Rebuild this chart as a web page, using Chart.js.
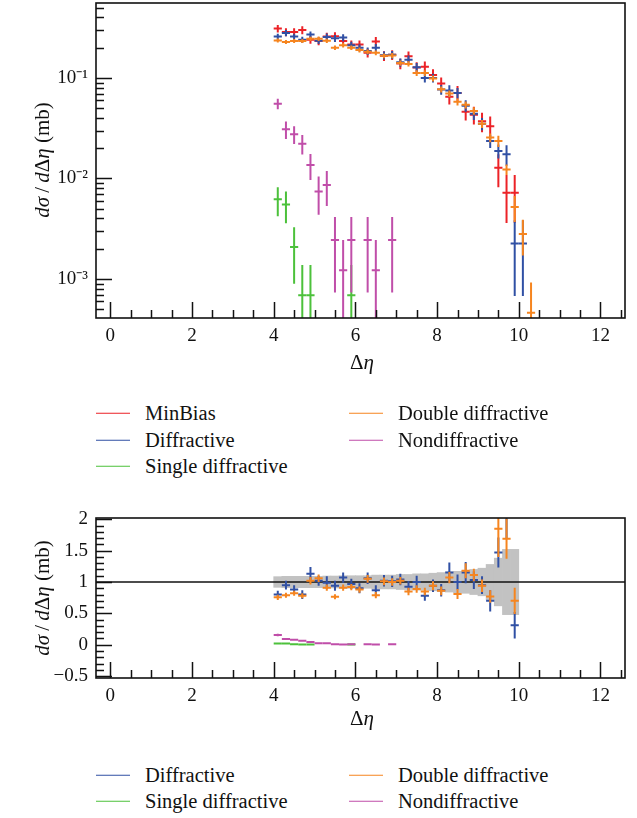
<!DOCTYPE html>
<html><head><meta charset="utf-8">
<script src="https://cdn.jsdelivr.net/npm/chart.js@4.4.0/dist/chart.umd.min.js"></script>
<style>
body{margin:0;background:#fff;}
#wrap{position:relative;width:637px;height:818px;overflow:hidden;font-family:'Liberation Serif',serif;color:#111;}
canvas{position:absolute;left:0;}
.t{position:absolute;white-space:nowrap;font-size:21px;line-height:1;}
.yt{transform:translate(-50%,-50%) rotate(-90deg);}
.xt{transform:translate(-50%,-50%);font-size:21px;}
.lg{position:absolute;display:flex;align-items:center;font-size:20.5px;white-space:nowrap;transform:translateY(-50%);line-height:1;}
.lg .l{display:inline-block;width:34px;height:0;border-top:1.6px solid;margin-right:15px;}
</style></head>
<body><div id="wrap">
<canvas id="c1" width="637" height="380" style="top:0"></canvas>
<canvas id="c2" width="637" height="210" style="top:505px"></canvas>
<div class="t yt" style="left:42px;top:160px"><i>dσ</i>&thinsp;/&thinsp;<i>d</i>Δ<i>η</i> (mb)</div>
<div class="t xt" style="left:362px;top:362px">Δ<i>η</i></div>
<div class="t yt" style="left:42px;top:598px"><i>dσ</i>&thinsp;/&thinsp;<i>d</i>Δ<i>η</i> (mb)</div>
<div class="t xt" style="left:362px;top:718px">Δ<i>η</i></div>
<div id="leg"></div>
</div>
<script>
// ---------- data ----------
const seriesNames  = ['MinBias','Diffractive','Single diffractive','Double diffractive','Nondiffractive'];
const seriesColors = ['#ec2227','#3050a4','#4cc13b','#f6851f','#c04ea9'];

const xMinBias = [4.1,4.3,4.5,4.7,4.9,5.1,5.3,5.5,5.7,5.9,6.1,6.3,6.5,6.7,6.9,7.1,7.3,7.5,7.7,7.9,8.1,8.3,8.5,8.7,8.9,9.1,9.3,9.5,9.7,9.9];
const xDiffractive = [4.1,4.3,4.5,4.7,4.9,5.1,5.3,5.5,5.7,5.9,6.1,6.3,6.5,6.7,6.9,7.1,7.3,7.5,7.7,7.9,8.1,8.3,8.5,8.7,8.9,9.1,9.3,9.5,9.7,9.9,10.1];
const xDouble = [4.1,4.3,4.5,4.7,4.9,5.1,5.3,5.5,5.7,5.9,6.1,6.3,6.5,6.7,6.9,7.1,7.3,7.5,7.7,7.9,8.1,8.3,8.5,8.7,8.9,9.1,9.3,9.5,9.7,9.9,10.1,10.3];
const xNon = [4.1,4.3,4.5,4.7,4.9,5.1,5.3,5.5,5.7,5.9,6.3,6.5,6.9];
const xSingle = [4.1,4.3,4.5,4.7,4.9,5.9];

// top panel: dσ/dΔη (mb)
const minBias = [0.31,0.286,0.286,0.30,0.24,0.233,0.258,0.26,0.233,0.215,0.215,0.178,0.23,0.166,0.17,0.139,0.164,0.127,0.129,0.107,0.088,0.065,0.071,0.046,0.043,0.037,0.033,0.0128,0.0072,0.0072];
const minBiasRelErr = [0.085,0.09,0.09,0.09,0.09,0.09,0.095,0.095,0.1,0.1,0.1,0.1,0.11,0.11,0.11,0.12,0.12,0.13,0.13,0.14,0.15,0.16,0.17,0.18,0.2,0.22,0.25,0.36,0.5,0.5];
const diffractive = [0.258,0.28,0.258,0.24,0.27,0.235,0.256,0.248,0.252,0.212,0.2,0.185,0.2,0.168,0.17,0.143,0.152,0.128,0.10,0.10,0.0766,0.075,0.071,0.053,0.044,0.035,0.0236,0.0188,0.0174,0.00226,0.00226];
const diffractiveRelErr = [0.07,0.07,0.07,0.07,0.075,0.075,0.08,0.08,0.08,0.08,0.085,0.085,0.09,0.09,0.09,0.095,0.1,0.1,0.1,0.1,0.11,0.13,0.12,0.13,0.13,0.14,0.15,0.16,0.23,0.7,0.7];
const doubleDiff = [0.236,0.228,0.233,0.233,0.245,0.246,0.234,0.2,0.212,0.2,0.19,0.182,0.178,0.166,0.167,0.141,0.138,0.112,0.112,0.099,0.077,0.07,0.058,0.054,0.047,0.035,0.0255,0.0236,0.0123,0.0052,0.0028,0.00046];
const doubleRelErr = [0.045,0.045,0.045,0.045,0.05,0.05,0.05,0.05,0.05,0.05,0.055,0.055,0.055,0.055,0.06,0.06,0.06,0.065,0.065,0.07,0.07,0.075,0.08,0.08,0.085,0.09,0.1,0.13,0.12,0.29,0.39,1.0];
const nonDiff = [0.0555,0.0308,0.0275,0.0222,0.0136,0.0074,0.0086,0.00244,0.00122,0.00244,0.00244,0.00122,0.00244];
const nonRelErr = [0.12,0.2,0.2,0.22,0.29,0.41,0.38,0.7,1.0,0.7,0.7,1.0,0.7];
const singleDiff = [0.0062,0.0055,0.00208,0.00069,0.00069,0.00069];
const singleRelErr = [0.32,0.35,0.57,1.0,1.0,1.0];

// bottom panel: ratio to MinBias
const minBiasBand = [0.085,0.09,0.09,0.09,0.09,0.09,0.095,0.095,0.1,0.1,0.1,0.1,0.11,0.11,0.11,0.12,0.12,0.13,0.13,0.14,0.15,0.16,0.17,0.18,0.2,0.22,0.28,0.38,0.52,0.52];
const ratioDiff = [0.80,0.95,0.88,0.80,1.13,1.02,0.99,0.94,1.07,0.97,0.90,1.06,0.87,1.02,1.01,1.04,0.925,1.0,0.78,0.94,0.87,1.15,1.0,1.15,1.03,0.95,0.70,1.47,2.4,0.31];
const ratioDiffErr = [0.06,0.07,0.07,0.07,0.11,0.08,0.1,0.08,0.08,0.08,0.08,0.09,0.08,0.09,0.09,0.09,0.09,0.1,0.08,0.1,0.1,0.16,0.12,0.17,0.14,0.14,0.17,0.24,0.7,0.21];
const ratioDouble = [0.755,0.79,0.82,0.78,1.02,1.06,0.91,0.765,0.91,0.92,0.88,1.05,0.79,1.01,1.0,1.02,0.85,0.89,0.85,0.94,0.86,1.07,0.81,1.18,1.11,0.94,0.77,1.85,1.69,0.70];
const ratioDoubleErr = [0.04,0.04,0.04,0.04,0.06,0.06,0.05,0.04,0.05,0.05,0.05,0.06,0.05,0.06,0.06,0.06,0.06,0.06,0.06,0.07,0.07,0.09,0.08,0.12,0.1,0.1,0.1,0.45,0.32,0.21];
const ratioNon = [0.155,0.09,0.08,0.065,0.045,0.025,0.025,0.008,0.004,0.008,0.008,0.004,0.008];
const ratioNonErr = [0.02,0.015,0.015,0.012,0.01,0.008,0.008,0.005,0.004,0.005,0.005,0.004,0.005];
const ratioSingle = [0.02,0.018,0.007,0.002,0.002,0.002];
const ratioSingleErr = [0.007,0.007,0.004,0.002,0.002,0.002];

// axes
const xTickValues = [0,2,4,6,8,10,12];
const xTickLabels = ['0','2','4','6','8','10','12'];
const yTopTickValues = [1e-3,1e-2,1e-1];
const yTopTickLabels = ['10\u207B\u00B3','10\u207B\u00B2','10\u207B\u00B9'];
const yBotTickValues = [-0.5,0,0.5,1,1.5,2];
const yBotTickLabels = ['\u22120.5','0','0.5','1','1.5','2'];

// ---------- drawing ----------
const FONT = '"Liberation Serif", serif';
Chart.defaults.font.family = FONT;
const XMIN = -0.35, XMAX = 12.6;
const HALFBIN = 0.1;

function near(a,b){return Math.abs(a-b)<1e-9;}
function labelFor(v, vals, labs){ for(let i=0;i<vals.length;i++){ if(Math.abs(v-vals[i])<=Math.abs(vals[i])*1e-6+1e-9) return labs[i]; } return ''; }

function xTicks(){
  const t=[]; for(let k=0;k<=25;k++){ const v=k*0.5; t.push({value:v, big: xTickValues.some(m=>near(m,v))}); } return t;
}
function yTopTicks(){
  const t=[]; for(let n=-4;n<=-1;n++){ for(let k=1;k<=9;k++){ const v=k*Math.pow(10,n); if(v>=4.09e-4 && v<=0.557) t.push({value:v, big:k===1}); } } return t;
}
function yBotTicks(){
  const t=[]; for(let k=-5;k<=20;k++){ const v=k/10; t.push({value:v, big: (k%5===0)}); } return t;
}
function noPad(s){ s.paddingTop=0; s.paddingBottom=0; s.paddingLeft=0; s.paddingRight=0; }

const crossPlugin = {
  id:'cross',
  afterDatasetDraw(chart, args){
    const ds = chart.data.datasets[args.index];
    const ctx = chart.ctx, a = chart.chartArea, xs = chart.scales.x, ys = chart.scales.y;
    ctx.save();
    ctx.beginPath(); ctx.rect(a.left, a.top, a.right-a.left, a.bottom-a.top); ctx.clip();
    if (ds.isBand){
      const p = ys.getPixelForValue(1);
      ctx.strokeStyle='#111'; ctx.lineWidth=1.6;
      ctx.beginPath(); ctx.moveTo(a.left,p); ctx.lineTo(a.right,p); ctx.stroke();
    }
    if (ds.errs){
      ctx.strokeStyle = ds.crossColor; ctx.lineWidth = 2; ctx.lineCap='butt';
      ds.data.forEach((pt,i)=>{
        const e = ds.errs[i];
        const px = xs.getPixelForValue(pt.x), py = ys.getPixelForValue(pt.y);
        const xl = xs.getPixelForValue(pt.x-HALFBIN), xr = xs.getPixelForValue(pt.x+HALFBIN);
        const lo = pt.y-e, hi = pt.y+e;
        const pl = (ys.type==='logarithmic' && lo<=0) ? a.bottom+5 : ys.getPixelForValue(lo);
        const ph = ys.getPixelForValue(hi);
        ctx.beginPath();
        ctx.moveTo(xl,py); ctx.lineTo(xr,py);
        ctx.moveTo(px,ph); ctx.lineTo(px,pl);
        ctx.stroke();
      });
    }
    ctx.restore();
  },
  afterDraw(chart){
    const ctx = chart.ctx, a = chart.chartArea, xs = chart.scales.x, ys = chart.scales.y;
    const MAJ=16, MIN=8;
    ctx.save(); ctx.strokeStyle='#111'; ctx.lineWidth=1.5;
    ctx.beginPath();
    xs.ticks.forEach(t=>{ const p = Math.round(xs.getPixelForValue(t.value))+0.5; if(p<a.left||p>a.right) return; const L=t.big?MAJ:MIN; ctx.moveTo(p,a.bottom); ctx.lineTo(p,a.bottom-L); });
    ys.ticks.forEach(t=>{ const p = Math.round(ys.getPixelForValue(t.value))+0.5; if(p<a.top-0.5||p>a.bottom+0.5) return; const L=t.big?MAJ:MIN; ctx.moveTo(a.left,p); ctx.lineTo(a.left+L,p); });
    ctx.stroke();
    ctx.lineWidth=1.6;
    ctx.strokeRect(a.left, a.top, a.right-a.left, a.bottom-a.top);
    ctx.restore();
  }
};

function pts(xs, ys){ return xs.map((x,i)=>({x:x, y:ys[i]})); }
function absErr(vals, rel){ return vals.map((v,i)=>v*rel[i]); }
function sds(name, color, xs, ys, errs, order){
  return {type:'scatter', label:name, data:pts(xs,ys), errs:errs, crossColor:color, borderColor:color, backgroundColor:color, pointRadius:0, pointHoverRadius:0, showLine:false, order:order};
}

function opts(padTop, xH, yType, yMin, yMax, yTickFn, yVals, yLabs){
  return {
    responsive:false, animation:false, devicePixelRatio:1,
    layout:{padding:{top:padTop, right:12, left:0, bottom:0}},
    plugins:{legend:{display:false}, tooltip:{enabled:false}},
    events:[],
    scales:{
      x:{type:'linear', min:XMIN, max:XMAX, offset:false,
        grid:{display:false, drawTicks:false}, border:{display:false},
        afterBuildTicks:s=>{ s.ticks = xTicks(); },
        afterFit:s=>{ s.height = xH; noPad(s); },
        ticks:{autoSkip:false, maxRotation:0, padding:7, color:'#111', font:{family:FONT, size:19},
          callback:(v)=>labelFor(v, xTickValues, xTickLabels)}},
      y:{type:yType, min:yMin, max:yMax,
        grid:{display:false, drawTicks:false}, border:{display:false},
        afterBuildTicks:s=>{ s.ticks = yTickFn(); },
        afterFit:s=>{ s.width = 96; noPad(s); },
        ticks:{autoSkip:false, padding:8, color:'#111', font:{family:FONT, size:19},
          callback:(v)=>labelFor(v, yVals, yLabs)}}
    }
  };
}

new Chart(document.getElementById('c1'), {
  type:'scatter',
  data:{datasets:[
    sds(seriesNames[0], seriesColors[0], xMinBias, minBias, absErr(minBias, minBiasRelErr), 100),
    sds(seriesNames[1], seriesColors[1], xDiffractive, diffractive, absErr(diffractive, diffractiveRelErr), 90),
    sds(seriesNames[2], seriesColors[2], xSingle, singleDiff, absErr(singleDiff, singleRelErr), 80),
    sds(seriesNames[3], seriesColors[3], xDouble, doubleDiff, absErr(doubleDiff, doubleRelErr), 70),
    sds(seriesNames[4], seriesColors[4], xNon, nonDiff, absErr(nonDiff, nonRelErr), 60)
  ]},
  options: opts(3, 62, 'logarithmic', 4.09e-4, 0.557, yTopTicks, yTopTickValues, yTopTickLabels),
  plugins:[crossPlugin]
});

new Chart(document.getElementById('c2'), {
  type:'scatter',
  data:{datasets:[
    {type:'bar', label:'MinBias uncertainty', isBand:true, data: xMinBias.map((x,i)=>({x:x, y:[1-minBiasBand[i], 1+minBiasBand[i]]})),
      backgroundColor:'#c2c2c2', borderWidth:0, barPercentage:1, categoryPercentage:1, grouped:false, order:200},
    sds(seriesNames[1], seriesColors[1], xMinBias, ratioDiff, ratioDiffErr, 90),
    sds(seriesNames[3], seriesColors[3], xMinBias, ratioDouble, ratioDoubleErr, 80),
    sds(seriesNames[2], seriesColors[2], xSingle, ratioSingle, ratioSingleErr, 70),
    sds(seriesNames[4], seriesColors[4], xNon, ratioNon, ratioNonErr, 60)
  ]},
  options: opts(13, 37, 'linear', -0.53, 2.02, yBotTicks, yBotTickValues, yBotTickLabels),
  plugins:[crossPlugin]
});

// legends (HTML text)
const legTop = [[0,96,413],[1,96,440],[2,96,466],[3,349,413],[4,349,440]];
const legBot = [[1,96,775],[2,96,801],[3,349,775],[4,349,801]];
const legEl = document.getElementById('leg');
[...legTop, ...legBot].forEach(([i,x,y])=>{
  const d = document.createElement('div'); d.className='lg'; d.style.left=x+'px'; d.style.top=y+'px';
  const l = document.createElement('span'); l.className='l'; l.style.borderTopColor=seriesColors[i];
  const t = document.createElement('span'); t.textContent = seriesNames[i];
  d.appendChild(l); d.appendChild(t); legEl.appendChild(d);
});
</script>
</body></html>
